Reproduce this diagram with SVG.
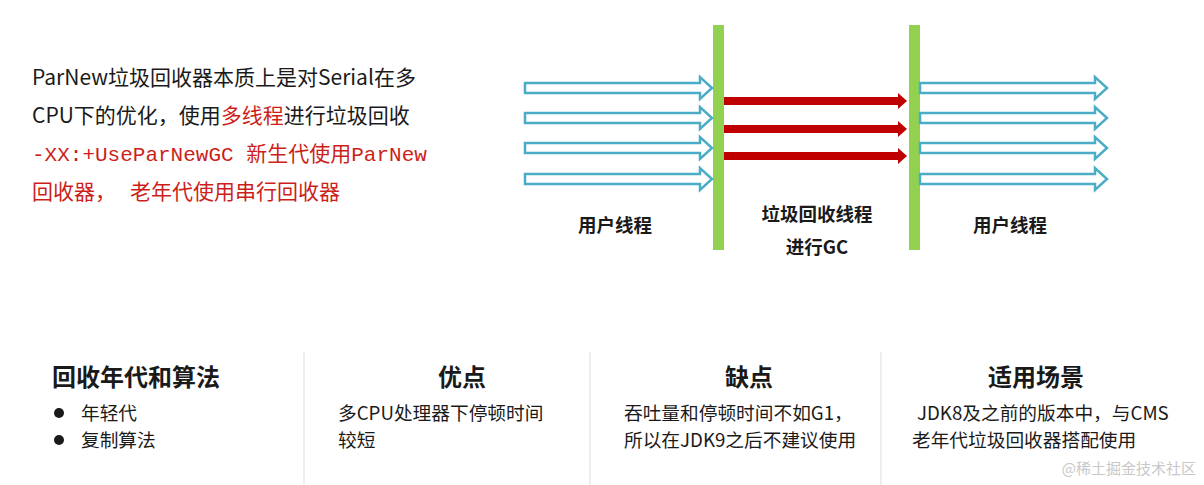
<svg xmlns="http://www.w3.org/2000/svg" width="1204" height="485" viewBox="0 0 1204 485">
<style>
.t{font-family:"Noto Sans CJK SC","Noto Sans",sans-serif;fill:#1a1a1a}
.intro{font-size:21px}
.red{fill:#cc1f1a}
.mono{font-family:"Liberation Mono","Noto Sans CJK SC",monospace;font-size:21px;fill:#cc1f1a}
.lbl{font-size:18.5px;font-weight:bold;text-anchor:middle}
.h{font-size:24px;font-weight:bold}
.b{font-size:18.7px}
.bar{fill:#92d050}
.ua{fill:#fff;stroke:#4bacc6;stroke-width:2.5;stroke-linejoin:miter}
.ga{fill:#c00000}
.div{stroke:#e3e3e3;stroke-width:1.2}
</style>
<rect width="1204" height="485" fill="#fff"/>

<g id="intro">
<text class="t intro" x="32" y="85">ParNew垃圾回收器本质上是对Serial在多</text>
<text class="t intro" x="32" y="123">CPU下的优化，使用<tspan class="red">多线程</tspan>进行垃圾回收</text>
<text x="32" y="161"><tspan class="mono">-XX:+UseParNewGC </tspan><tspan class="t red" font-size="21">新生代使用</tspan><tspan class="mono">ParNew</tspan></text>
<text class="t intro red" x="32" y="199">回收器，<tspan x="130">老年代使用串行回收器</tspan></text>
</g>

<g id="bar-left"><rect class="bar" x="713" y="25" width="11" height="225"/></g>
<g id="bar-right"><rect class="bar" x="909" y="25" width="11" height="225"/></g>

<g id="connectors">
<path class="ua" d="M525,83H700V77L712,88L700,99V93H525Z"/>
<path class="ua" d="M525,113H700V107L712,118L700,129V123H525Z"/>
<path class="ua" d="M525,143H700V137L712,148L700,159V153H525Z"/>
<path class="ua" d="M525,174H700V168L712,179L700,190V184H525Z"/>
<path class="ga" d="M724,97H898V93L907,101L898,109V105H724Z"/>
<path class="ga" d="M724,125H898V121L907,129L898,137V133H724Z"/>
<path class="ga" d="M724,152H898V148L907,156L898,164V160H724Z"/>
<path class="ua" d="M920,83H1095V77L1107,88L1095,99V93H920Z"/>
<path class="ua" d="M920,113H1095V107L1107,118L1095,129V123H920Z"/>
<path class="ua" d="M920,143H1095V137L1107,148L1095,159V153H920Z"/>
<path class="ua" d="M920,174H1095V168L1107,179L1095,190V184H920Z"/>
</g>

<g id="label-user-left"><text class="t lbl" x="615" y="232">用户线程</text></g>
<g id="label-gc"><text class="t lbl" x="817" y="221">垃圾回收线程</text><text class="t lbl" x="817" y="254">进行GC</text></g>
<g id="label-user-right"><text class="t lbl" x="1010" y="232">用户线程</text></g>

<g id="dividers">
<line class="div" x1="304" y1="352" x2="304" y2="485"/>
<line class="div" x1="590" y1="352" x2="590" y2="485"/>
<line class="div" x1="881" y1="352" x2="881" y2="485"/>
</g>

<g id="col-gen">
<text class="t h" x="52" y="386">回收年代和算法</text>
<circle cx="59" cy="413" r="5" fill="#1a1a1a"/>
<circle cx="59" cy="440" r="5" fill="#1a1a1a"/>
<text class="t b" x="81" y="420">年轻代</text>
<text class="t b" x="81" y="447">复制算法</text>
</g>
<g id="col-pro">
<text class="t h" x="462" y="386" text-anchor="middle">优点</text>
<text class="t b" x="338" y="420">多CPU处理器下停顿时间</text>
<text class="t b" x="338" y="447">较短</text>
</g>
<g id="col-con">
<text class="t h" x="749" y="386" text-anchor="middle">缺点</text>
<text class="t b" x="624" y="420">吞吐量和停顿时间不如G1，</text>
<text class="t b" x="624" y="447">所以在JDK9之后不建议使用</text>
</g>
<g id="col-use">
<text class="t h" x="1036" y="386" text-anchor="middle">适用场景</text>
<text class="t b" x="917" y="420">JDK8及之前的版本中，与CMS</text>
<text class="t b" x="912" y="447">老年代垃圾回收器搭配使用</text>
</g>
<g id="watermark"><text x="1196" y="474" text-anchor="end" font-family="'Noto Sans CJK SC',sans-serif" font-size="15" fill="#c8c8c8">@稀土掘金技术社区</text></g>
</svg>
